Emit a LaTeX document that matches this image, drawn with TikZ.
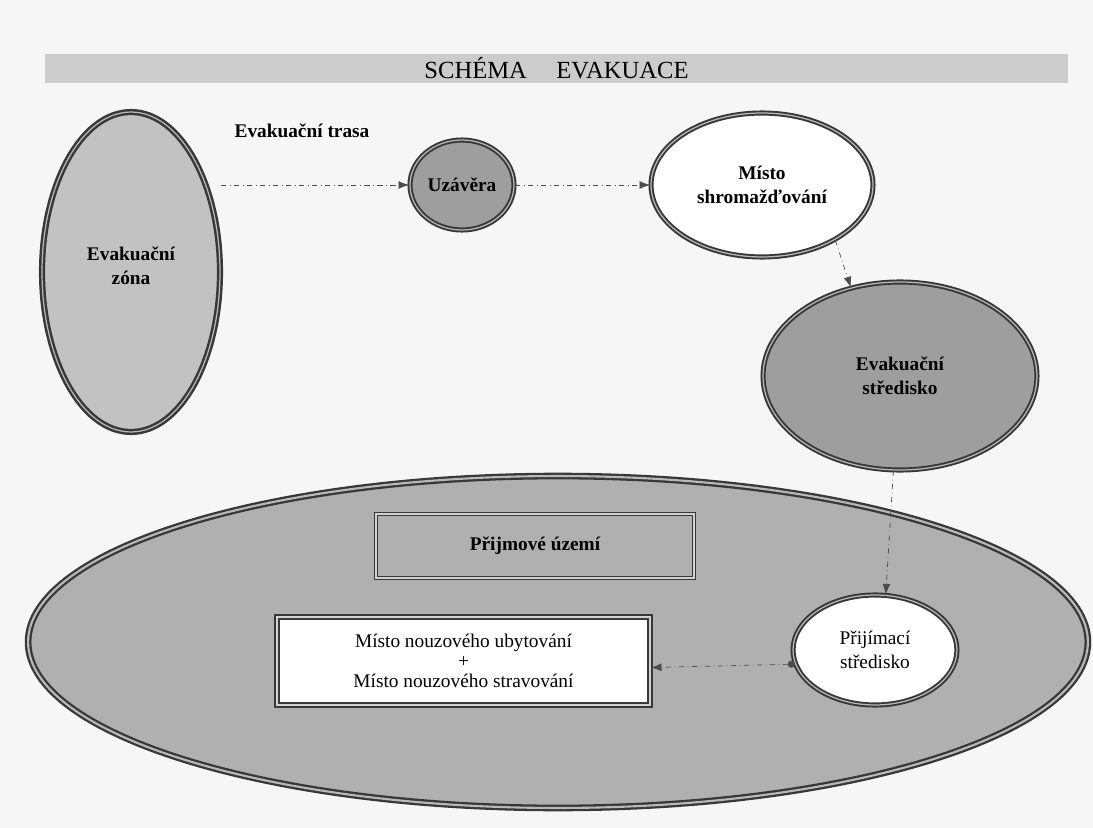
\documentclass[tikz,border=0pt]{standalone}
\usepackage{fontspec}
\setmainfont{Liberation Serif}
\usetikzlibrary{shapes.geometric,arrows.meta}
\definecolor{papir}{gray}{0.965}
\definecolor{pruh}{gray}{0.80}
\definecolor{svetla}{gray}{0.76}
\definecolor{stredni}{gray}{0.69}
\definecolor{tmava}{gray}{0.62}
\definecolor{obrys}{gray}{0.22}

\begin{document}
\begin{tikzpicture}[x=0.02cm,y=-0.02cm,
  ovl/.style={ellipse,draw=obrys,double=gray!55,double distance=0.7pt,line width=1.1pt,inner sep=0pt},
  ram/.style={rectangle,draw=obrys,double=gray!35,double distance=1pt,line width=0.9pt,inner sep=0pt},
  sip/.style={-{Latex[length=6pt,width=4.5pt]},dash dot,draw=black!70,thin}]
\newcommand{\pismo}{\fontsize{11}{13.5}\selectfont}
\useasboundingbox (0,0) rectangle (1093,828);
\fill[papir] (0,0) rectangle (1093,828);
% nadpis
\node[fill=pruh,minimum width=20.46cm,minimum height=0.58cm,inner sep=0pt] (pruh) at (556.5,68.5) {};
\node[font=\fontsize{14}{16}\selectfont] (nadpis) at (556.5,68.5) {SCHÉMA\hspace{1.2em}EVAKUACE};
\begin{scope}[align=center]
\tikzstyle{every node}=[font=\pismo]
% prijmove uzemi (velka elipsa)
\node[ovl,fill=stredni,line width=1.3pt,double distance=1.2pt,minimum width=21.2cm,minimum height=6.64cm] (prijem) at (558,642) {};
\node[ram,fill=stredni,minimum width=6.36cm,minimum height=1.28cm,font=\pismo\bfseries] (uzemi) at (535,546) {Přijmové území};
\node[ram,fill=white,line width=1.1pt,minimum width=7.46cm,minimum height=1.76cm] (nouz) at (463.5,661) {Místo nouzového ubytování\\[-2pt]+\\[-2pt]Místo nouzového stravování};
\node[ovl,fill=white,minimum width=3.28cm,minimum height=2.2cm] (prijim) at (875,650) {Přijímací\\středisko};
% horni rada
\node[ovl,fill=svetla,line width=1.4pt,minimum width=3.56cm,minimum height=6.4cm,font=\pismo\bfseries] (zona) at (131,272) {Evakuační\\zóna\\[-6.5pt]};
\node[ovl,fill=tmava,minimum width=2.08cm,minimum height=1.8cm,font=\pismo\bfseries] (uzavera) at (462,185) {Uzávěra};
\node[ovl,fill=white,minimum width=4.44cm,minimum height=2.88cm,font=\pismo\bfseries] (shrom) at (762,185) {Místo\\shromažďování};
\node[ovl,fill=tmava,minimum width=5.48cm,minimum height=3.76cm,font=\pismo\bfseries] (stred) at (900,376) {Evakuační\\středisko};
\node[font=\pismo\bfseries] (trasa) at (302,131) {Evakuační trasa};
\end{scope}
% sipky
\draw[sip] (zona.east |- uzavera.west) -- (uzavera.west);
\draw[sip] (uzavera) -- (shrom);
\draw[sip] (shrom.-37) -- (stred.119);
\draw[sip] (stred.-94) -- (prijim.79);
\draw[sip,{Circle[length=4pt]}-{Latex[length=6pt,width=4.5pt]}] (prijim.190) -- (nouz.-2);
\end{tikzpicture}
\end{document}
